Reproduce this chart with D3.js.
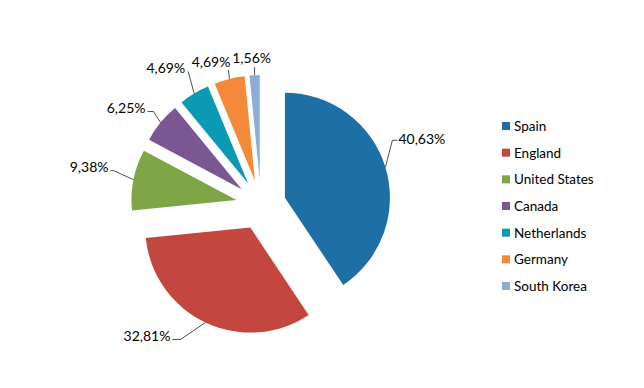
<!DOCTYPE html>
<html>
<head>
<meta charset="utf-8">
<script src="https://cdn.jsdelivr.net/npm/d3@7"></script>
<style>
    body { margin: 0; background: #fff; }
    svg text { font-family: Lato, "Open Sans", sans-serif; font-size: 14px; fill: #000; }
    svg .legend text { font-size: 13.5px; }
</style>
</head>
<body>
<div id="chart"></div>
<script>
const countries = ['Spain', 'England', 'United States', 'Canada', 'Netherlands', 'Germany', 'South Korea'];
const counts = [26, 21, 6, 4, 3, 3, 1];
const colors = ['#1f6fa7', '#c3463f', '#7ea546', '#7a5692', '#0a9ab3', '#f38939', '#8caed6'];

// label layout, relative to the middle of each arc: [elbow dx, dy, text dx, dy, anchor]
const labelLayout = [
    [7, -27, 13, -29, 'start'],
    [-25, 17, -35, 13, 'end'],
    [-20, -9, -25, -13, 'end'],
    [-7, -11, -15, -15, 'end'],
    [-6, -22, -9, -26, 'end'],
    [-1, -9, 1, -17, 'end'],
    [0, -8, -3, -18, 'middle']
];

const width = 644, height = 388;
const cx = 261, cy = 205, radius = 105, explode = 25;

const svg = d3.select('#chart').append('svg')
    .attr('width', width).attr('height', height);

const total = d3.sum(counts);
const fmt = v => (Math.round(v * 10000) / 100).toFixed(2).replace('.', ',') + '%';

const pie = d3.pie().sort(null).value(d => d.value);
const arcs = pie(countries.map((c, i) => ({name: c, value: counts[i], color: colors[i]})));
const arc = d3.arc().innerRadius(0).outerRadius(radius);

const g = svg.append('g').attr('transform', `translate(${cx},${cy})`);

arcs.forEach((a, i) => {
    const mid = (a.startAngle + a.endAngle) / 2;
    const ox = Math.sin(mid) * explode, oy = -Math.cos(mid) * explode;
    const sg = g.append('g').attr('transform', `translate(${ox},${oy})`);
    sg.append('path').attr('d', arc(a)).attr('fill', a.data.color);

    // leader line from the arc middle
    const px = Math.sin(mid) * radius, py = -Math.cos(mid) * radius;
    const [ex, ey, tx, ty, anchor] = labelLayout[i];
    const pts = [[px, py], [px + ex, py + ey]];
    if (anchor === 'start') pts.push([px + tx - 1, py + ey]);
    else if (i < 4) pts.push([px + tx + 2, py + ey]);
    sg.append('path')
        .attr('d', d3.line()(pts))
        .attr('fill', 'none').attr('stroke', '#222').attr('stroke-width', 0.8);
    sg.append('text')
        .attr('x', px + tx).attr('y', py + ty)
        .attr('text-anchor', anchor)
        .attr('dominant-baseline', 'central')
        .text(fmt(a.data.value / total));
});

// legend
const legendY = d3.scalePoint().domain(countries).range([126, 286]);
const legend = svg.append('g').attr('class', 'legend').selectAll('g')
    .data(arcs)
    .join('g')
    .attr('transform', d => `translate(502,${legendY(d.data.name)})`);
legend.append('rect').attr('x', 0).attr('y', -4).attr('width', 8).attr('height', 8)
    .attr('fill', d => d.data.color);
legend.append('text').attr('x', 12).attr('y', 0)
    .attr('dominant-baseline', 'central')
    .text(d => d.data.name);
</script>
</body>
</html>
